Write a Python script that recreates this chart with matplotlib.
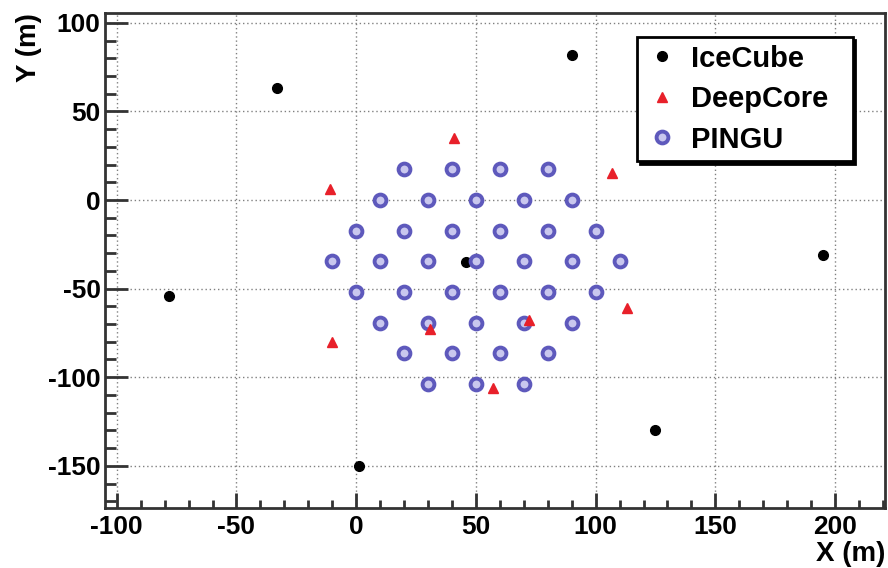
import matplotlib
matplotlib.use('Agg')
import matplotlib.pyplot as plt

plt.rcParams['font.family'] = ['Liberation Sans', 'DejaVu Sans']
plt.rcParams['font.weight'] = 'bold'
plt.rcParams['axes.unicode_minus'] = False

# string positions (m)
icecube_x = [-33, 90, -78, 46, 195, 125, 1]
icecube_y = [63, 82, -54, -35, -31, -130, -150]

deepcore_x = [41, -11, 107, -10, 31, 72, 113, 57]
deepcore_y = [35, 6, 15, -80, -73, -68, -61, -106]

pingu_x = [20, 40, 60, 80,
           10, 30, 50, 70, 90,
           0, 20, 40, 60, 80, 100,
           -10, 10, 30, 50, 70, 90, 110,
           0, 20, 40, 60, 80, 100,
           10, 30, 50, 70, 90,
           20, 40, 60, 80,
           30, 50, 70]
pingu_y = [17.3, 17.3, 17.3, 17.3,
           0, 0, 0, 0, 0,
           -17.3, -17.3, -17.3, -17.3, -17.3, -17.3,
           -34.6, -34.6, -34.6, -34.6, -34.6, -34.6, -34.6,
           -52, -52, -52, -52, -52, -52,
           -69.3, -69.3, -69.3, -69.3, -69.3,
           -86.6, -86.6, -86.6, -86.6,
           -104, -104, -104]

fig = plt.figure(figsize=(8.88, 5.68), dpi=100)
ax = fig.add_axes([0.118, 0.106, 0.879, 0.871])

ax.plot(icecube_x, icecube_y, 'o', color='black', ms=7, ls='none',
        label='IceCube', zorder=3)
ax.plot(deepcore_x, deepcore_y, '^', color='#e8202a', ms=7, ls='none',
        label='DeepCore', zorder=5)
ax.plot(pingu_x, pingu_y, 'o', mfc='#c9c7ee', mec='#5e59bc', mew=2.8, ms=8.5,
        ls='none', label='PINGU', zorder=4)

ax.set_xlim(-105, 221)
ax.set_ylim(-173.7, 105.5)
ax.set_xticks([-100, -50, 0, 50, 100, 150, 200])
ax.set_yticks([-150, -100, -50, 0, 50, 100])
ax.set_xticks(range(-100, 221, 10), minor=True)
ax.set_yticks(range(-170, 106, 10), minor=True)

ax.grid(True, which='major', color='#808080', ls=(0, (1, 2)), lw=1)
ax.tick_params(which='both', direction='in', top=False, right=False,
               labelsize=19, width=2, color='#333333')
ax.tick_params(axis='y', which='major', length=16.5, pad=3)
ax.tick_params(axis='y', which='minor', length=8)
ax.tick_params(axis='x', which='major', length=11, pad=5)
ax.tick_params(axis='x', which='minor', length=5.5)
for lab in ax.get_xticklabels() + ax.get_yticklabels():
    lab.set_fontweight('bold')
for s in ax.spines.values():
    s.set_linewidth(2)
    s.set_color('#333333')

ax.set_xlabel('X (m)', fontsize=20, fontweight='bold', loc='right')
ax.xaxis.set_label_coords(1.0, -0.068)
ax.xaxis.label.set_va('top')
ax.set_ylabel('Y (m)', fontsize=20, fontweight='bold', loc='top')
ax.yaxis.set_label_coords(-0.08, 1.0)

leg = ax.legend(loc='upper left', bbox_to_anchor=(0.682, 0.70, 0.276, 0.251),
                mode='expand', borderaxespad=0, fontsize=21, fancybox=False,
                edgecolor='black', framealpha=1, borderpad=0.25,
                handletextpad=0.35, handlelength=1.24, labelspacing=0.43,
                shadow={'color': 'black', 'alpha': 1})
leg.get_frame().set_linewidth(2)
for t in leg.get_texts():
    t.set_fontweight('bold')

fig.savefig('out.png', dpi=100)
